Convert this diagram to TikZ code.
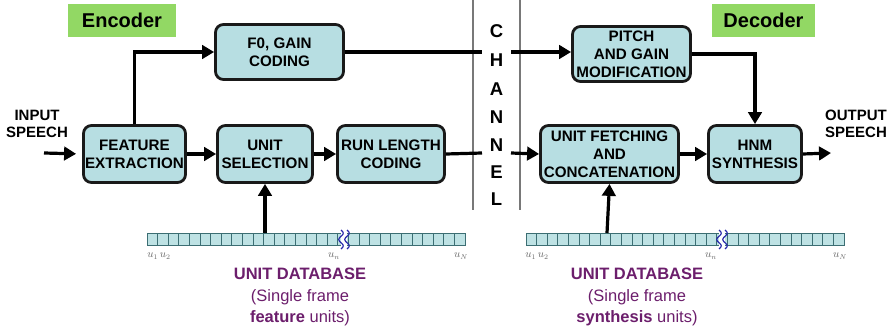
\documentclass[tikz,border=0pt]{standalone}
\usepackage{fontspec}
\setmainfont{Liberation Sans}
\usetikzlibrary{arrows.meta}

\definecolor{boxfill}{RGB}{183,222,226}
\definecolor{cellfill}{RGB}{190,226,228}
\definecolor{celledge}{RGB}{60,110,115}
\definecolor{taggreen}{RGB}{146,216,100}
\definecolor{dbpurple}{RGB}{108,30,108}
\definecolor{waveblue}{RGB}{40,40,170}
\definecolor{chgray}{RGB}{120,120,120}

\tikzset{
  block/.style={draw=black!90, line width=2.8pt, rounded corners=8pt, fill=boxfill,
    align=center, inner sep=1pt, font=\fontsize{15.2}{18}\selectfont\bfseries},
  flow/.style={line width=3.2pt, -{Triangle[length=12pt,width=13.5pt]}},
  plain/.style={line width=3.2pt},
  tag/.style={fill=taggreen, inner sep=0pt, font=\fontsize{20}{24}\selectfont\bfseries},
  iolabel/.style={align=center, inner sep=0pt, font=\fontsize{15}{17}\selectfont\bfseries},
  chletter/.style={inner sep=0pt, font=\fontsize{18.5}{20}\selectfont\bfseries},
  cell/.style={draw=celledge, line width=0.7pt, fill=cellfill},
  ulabel/.style={inner sep=0pt, text=black!60, font=\fontsize{10.5}{12}\selectfont},
  dblabel/.style={align=center, inner sep=0pt, text=dbpurple, font=\fontsize{16.5}{21.5}\selectfont},
  wave/.style={draw=waveblue, line width=1.2pt},
}

\begin{document}
\begin{tikzpicture}[x=1pt, y=-1pt]
\useasboundingbox (0,0) rectangle (891,331);

% section tags
\node[tag, minimum width=108pt, minimum height=33pt] (enc) at (122,20.5) {Encoder};
\node[tag, minimum width=103pt, minimum height=33pt] (dec) at (763.5,20.5) {Decoder};

% channel
\draw[chgray, line width=1.2pt] (473,0) -- (473,210);
\draw[chgray, line width=1.2pt] (520,0) -- (520,210);
\foreach \ch/\yy [count=\k] in {C/31,H/60,A/89,N/117,N/145,E/172,L/199}
  \node[chletter] (ch\k) at (496.5,\yy) {\ch};

% encoder blocks
\node[block, minimum width=102pt, minimum height=57pt] (fe)  at (134.5,154) {FEATURE\\EXTRACTION};
\node[block, minimum width=95pt,  minimum height=57pt] (us)  at (265,154)   {UNIT\\SELECTION};
\node[block, minimum width=107pt, minimum height=57pt] (rlc) at (391,154)   {RUN LENGTH\\CODING};
\node[block, minimum width=128pt, minimum height=55pt] (f0)  at (279.5,52)  {F0, GAIN\\CODING};

% decoder blocks
\node[block, minimum width=118pt, minimum height=55pt] (pgm) at (631.5,54)  {PITCH\\AND GAIN\\MODIFICATION};
\node[block, minimum width=138pt, minimum height=57pt] (ufc) at (609.5,154) {UNIT FETCHING\\AND\\CONCATENATION};
\node[block, minimum width=93pt,  minimum height=57pt] (hnm) at (755,154)   {HNM\\SYNTHESIS};

% speech in / out
\node[iolabel] (inlab)  at (37,124)  {INPUT\\SPEECH};
\node[iolabel] (outlab) at (856,124) {OUTPUT\\SPEECH};
\coordinate (inp)  at (44,153);
\coordinate (outp) at (831,153);

% channel crossing points
\coordinate (cl1) at (482,153);
\coordinate (cr1) at (511,153);
\coordinate (cl2) at (482,52);
\coordinate (cr2) at (511,52);

% connectors
\draw[flow, shorten >=6pt] (inp) -- (fe.west);
\draw[flow] (fe.east) -- (us.west);
\draw[flow] (us.east) -- (rlc.west);
\draw[plain] (rlc.east) -- (cl1);
\draw[flow] (cr1) -- (ufc.west);
\draw[flow] (ufc.east) -- (hnm.west);
\draw[flow] (hnm.east) -- (outp);
\draw[flow] (fe.north) |- (f0.west);
\draw[plain] (f0.east) -- (cl2);
\draw[flow] (cr2) -- (cr2 -| pgm.west);
\draw[flow] (pgm.east) -| (hnm.north);

% unit databases
\foreach \i in {0,...,29} {
  \draw[cell] ({147+\i*10.6},233) rectangle ++(10.6,12);
  \draw[cell] ({526+\i*10.6},233) rectangle ++(10.6,12);
}
% breaks in the unit strips
\fill[white] (341,232) rectangle (347,246);
\fill[white] (719,232) rectangle (725,246);
\foreach \xx in {341,347,719,725}
  \draw[wave, domain=0:1, samples=25, smooth] plot ({\xx+2.2*sin(\x*540)}, {230+19*\x});

\coordinate (db1) at (265,233);
\coordinate (db2) at (607,233);
\draw[flow] (db1) -- (us.south);
\draw[flow] (db2) -- (ufc.south);

\node[ulabel] (u1a) at (159,256) {$u_1\,u_2$};
\node[ulabel] (una) at (334,256) {$u_n$};
\node[ulabel] (uNa) at (461,256) {$u_N$};
\node[ulabel] (u1b) at (537,256) {$u_1\,u_2$};
\node[ulabel] (unb) at (711,256) {$u_n$};
\node[ulabel] (uNb) at (840,256) {$u_N$};

\node[dblabel] (dbt1) at (300,297) {\textbf{UNIT DATABASE}\\(Single frame\\\textbf{feature} units)};
\node[dblabel] (dbt2) at (637,297) {\textbf{UNIT DATABASE}\\(Single frame\\\textbf{synthesis} units)};
\end{tikzpicture}
\end{document}
